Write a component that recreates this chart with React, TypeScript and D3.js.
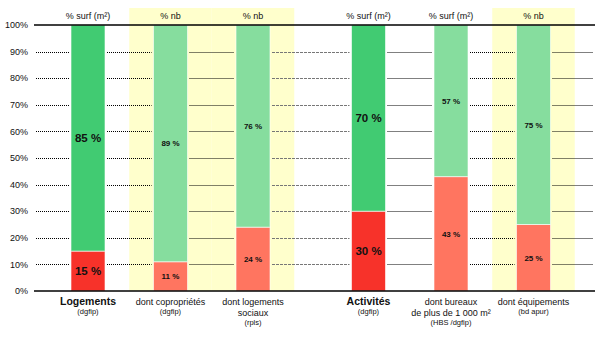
import React from "react";
import * as d3 from "d3";

const categories = ["Logements", "dont copropriétés", "dont logements sociaux", "Activités", "dont bureaux de plus de 1 000 m²", "dont équipements"];
const labelLines: string[][] = [
  ["Logements"],
  ["dont copropriétés"],
  ["dont logements", "sociaux"],
  ["Activités"],
  ["dont bureaux", "de plus de 1 000 m²"],
  ["dont équipements"],
];
const sources = ["(dgfip)", "(dgfip)", "(rpls)", "(dgfip)", "(HBS /dgfip)", "(bd apur)"];
const headers = ["% surf (m²)", "% nb", "% nb", "% surf (m²)", "% surf (m²)", "% nb"];
const isMain = [true, false, false, true, false, false];
const highlighted = [false, true, true, false, false, true];
const redValues = [15, 11, 24, 30, 43, 25];
const greenValues = [85, 89, 76, 70, 57, 75];
const yTicks = [0, 10, 20, 30, 40, 50, 60, 70, 80, 90, 100];

const W = 600, H = 340;
const plotLeft = 34, plotRight = 595, plotTop = 25, plotBottom = 291;
const FONT = "'Liberation Sans Narrow', 'Arial Narrow', 'Liberation Sans', Arial, sans-serif";

export default function App() {
  const y = d3.scaleLinear().domain([0, 100]).range([plotBottom, plotTop]);
  const slots = categories.map((_, i) => i + (i >= 3 ? 0.4 : 0));
  const x = d3.scaleLinear().domain([0, 5.4]).range([88, 533.5]);
  const step = x(1) - x(0);
  const barW = 34;

  const bars = slots.map((s) => ({ l: x(s) - barW / 2, r: x(s) + barW / 2 }));
  const gaps: { a: number; b: number; wide: boolean }[] = [];
  let prev = plotLeft;
  bars.forEach((b, i) => {
    gaps.push({ a: prev, b: b.l, wide: i === 3 });
    prev = b.r;
  });
  gaps.push({ a: prev, b: plotRight, wide: false });

  return (
    <svg width={W} height={H} style={{ position: "absolute", left: 0, top: 0, background: "#fff" }} fontFamily={FONT}>
      {slots.map((s, i) =>
        highlighted[i] ? (
          <rect key={"hb" + i} x={x(s) - step / 2} y={8} width={step} height={plotBottom - 8} fill="#FFFFCC" />
        ) : null
      )}
      {yTicks.filter((t) => t > 0 && t < 100).map((t) =>
        gaps.map((g, j) => (
          <line key={`g${t}-${j}`} x1={g.a + 2} x2={g.b - 2} y1={Math.round(y(t)) + 0.5} y2={Math.round(y(t)) + 0.5}
            stroke={g.wide ? "#777" : "#000"} strokeWidth={1} strokeDasharray={g.wide ? "3,1" : "1,1"} />
        ))
      )}
      {slots.map((s, i) => {
        const cx = x(s);
        const redC = isMain[i] ? "#F7322A" : "#FF7560";
        const greenC = isMain[i] ? "#41CB72" : "#86DD9E";
        return (
          <g key={"b" + i}>
            <rect x={cx - barW / 2} y={y(redValues[i])} width={barW} height={y(0) - y(redValues[i])} fill={redC} stroke="#fff" strokeOpacity={0.6} strokeWidth={1} />
            <rect x={cx - barW / 2} y={y(100)} width={barW} height={y(redValues[i]) - y(100)} fill={greenC} stroke="#fff" strokeOpacity={0.6} strokeWidth={1} />
            <text x={cx} y={y(redValues[i] / 2)} dy="0.35em" textAnchor="middle" fontWeight="bold"
              fontSize={isMain[i] ? 11.5 : 8} fill="#111">{`${redValues[i]} %`}</text>
            <text x={cx} y={y(redValues[i] + greenValues[i] / 2)} dy="0.35em" textAnchor="middle" fontWeight="bold"
              fontSize={isMain[i] ? 11.5 : 8} fill="#111">{`${greenValues[i]} %`}</text>
            <text x={cx} y={19} textAnchor="middle" fontSize={9} fill="#111">{headers[i]}</text>
          </g>
        );
      })}
      <line x1={plotLeft} x2={plotRight} y1={y(100)} y2={y(100)} stroke="#000" strokeWidth={1.5} />
      <line x1={plotLeft} x2={plotRight} y1={y(0)} y2={y(0)} stroke="#000" strokeWidth={1.5} />
      {yTicks.map((t) => (
        <text key={"yt" + t} x={28} y={y(t)} dy="0.35em" textAnchor="end" fontSize={9} fill="#111">{`${t}%`}</text>
      ))}
      {slots.map((s, i) => {
        const cx = x(s);
        const lines = labelLines[i];
        return (
          <g key={"cl" + i}>
            {lines.map((ln, k) => (
              <text key={k} x={cx} y={305 + k * 11} textAnchor="middle"
                fontSize={isMain[i] ? 10.5 : 9} fontWeight={isMain[i] ? "bold" : "normal"} fill="#111">{ln}</text>
            ))}
            <text x={cx} y={304 + lines.length * 10.5 - (lines.length === 1 ? 0.5 : 0)} textAnchor="middle" fontSize={7.5} fill="#111">{sources[i]}</text>
          </g>
        );
      })}
    </svg>
  );
}
